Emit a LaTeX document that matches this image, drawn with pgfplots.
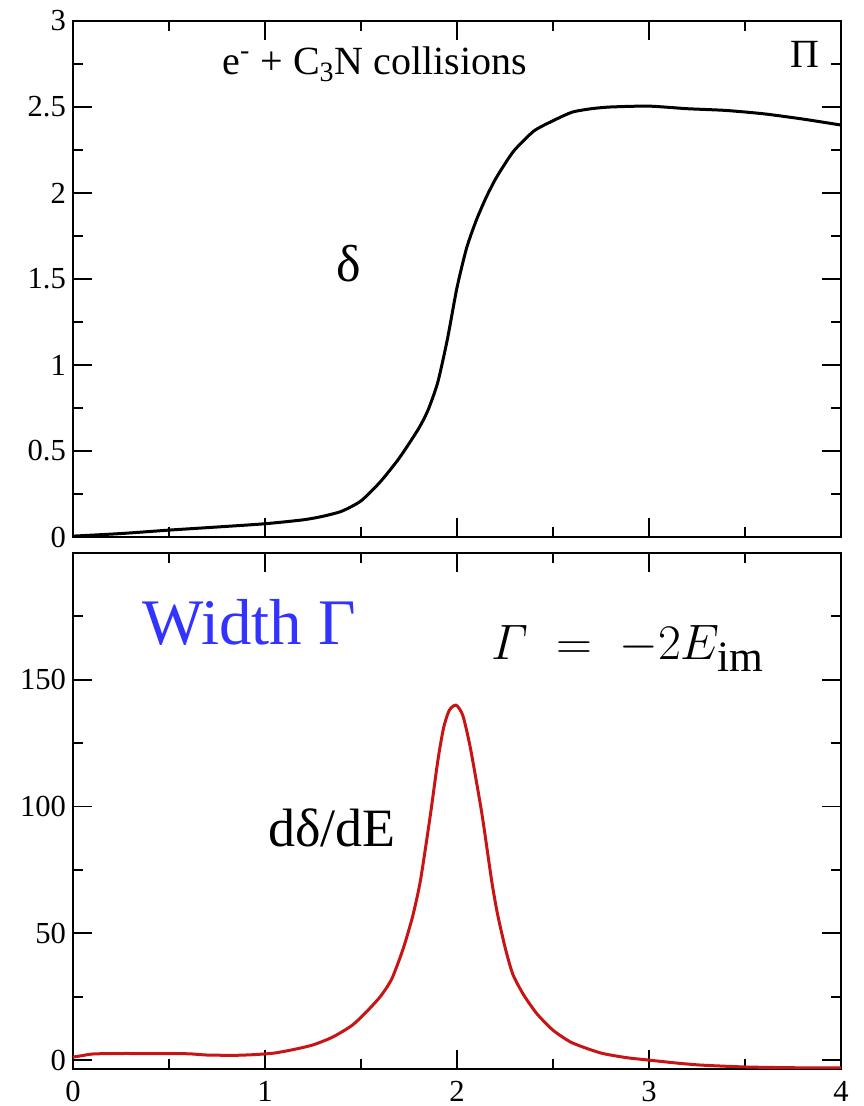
\documentclass[border=0pt]{standalone}
\usepackage{amsmath}
\usepackage{fontspec}
\setmainfont{Liberation Serif}
\newfontfamily\tfont{Liberation Serif}
\usepackage{pgfplots}
\pgfplotsset{compat=1.18}
\definecolor{curvered}{RGB}{200,20,20}
\definecolor{wblue}{RGB}{51,51,255}
\pgfplotsset{
  myax/.style={
    scale only axis, width=384pt, height=258pt,
    xmin=0, xmax=4,
    xtick={0,1,2,3,4}, minor xtick={0.5,1.5,2.5,3.5},
    tick align=inside,
    major tick length=9.5pt, minor tick length=5pt,
    axis line style={line width=1pt},
    every tick/.style={line width=0.9pt, black},
    tick label style={font=\tfont\fontsize{15.3}{18}\selectfont},
    /pgf/number format/assume math mode=true,
    clip=true,
  }
}
\begin{document}
\begin{tikzpicture}
\useasboundingbox (-36.5pt,-18.5pt) rectangle (395pt,534.5pt);
% bottom panel
\begin{axis}[myax, at={(0,0)}, anchor=south west,
  ymin=-3.5, ymax=200,
  ytick={0,50,100,150}, minor ytick={25,75,125,175},
  xticklabels={0,1,2,3,4},
  xticklabel style={yshift=-2.5pt}]
\addplot[curvered, line width=1.5pt, smooth, tension=0.4] coordinates {
(0.00,1.2) (0.05,1.8) (0.10,2.4) (0.20,2.6) (0.40,2.6) (0.60,2.5) (0.70,2.0)
(0.85,1.9) (0.95,2.2) (1.05,2.8) (1.15,4.2) (1.25,6.0) (1.35,9.0) (1.45,13.5)
(1.52,18.4) (1.60,25) (1.66,32) (1.72,44) (1.77,57) (1.81,71) (1.86,96)
(1.90,118) (1.93,131) (1.96,138) (1.995,140) (2.03,136) (2.07,123) (2.13,97)
(2.18,71) (2.21,58) (2.25,44.6) (2.29,34) (2.345,26) (2.415,18.4) (2.50,11.8)
(2.59,7.2) (2.68,4.5) (2.76,2.6) (2.88,1.0) (3.00,0) (3.15,-1.2) (3.28,-2)
(3.50,-2.7) (3.75,-3.0) (4.00,-3.1)
};
\end{axis}
% top panel
\begin{axis}[myax, at={(0,266pt)}, anchor=south west,
  ymin=0, ymax=3,
  ytick={0,0.5,1,1.5,2,2.5,3}, minor ytick={0.25,0.75,1.25,1.75,2.25,2.75},
  xticklabels={}]
\addplot[black, line width=1.5pt, smooth, tension=0.4] coordinates {
(0.00,0.005) (0.25,0.02) (0.50,0.04) (0.75,0.058) (1.00,0.077) (1.20,0.10)
(1.30,0.12) (1.40,0.15) (1.50,0.21) (1.60,0.32) (1.70,0.46) (1.80,0.63)
(1.85,0.74) (1.90,0.90) (1.95,1.15) (2.00,1.45) (2.05,1.68) (2.10,1.84)
(2.15,1.97) (2.20,2.08) (2.25,2.17) (2.30,2.25) (2.40,2.36) (2.50,2.42)
(2.60,2.47) (2.70,2.49) (2.80,2.50) (3.00,2.505) (3.20,2.49) (3.40,2.48)
(3.60,2.46) (3.80,2.43) (4.00,2.395)
};
\end{axis}
% annotations
\node[anchor=base west, inner sep=0pt, font=\tfont\fontsize{20}{22}\selectfont] at (74.5pt,497pt)
  {e\textsuperscript{-} + C\textsubscript{3}N collisions};
\node[anchor=base west, inner sep=0pt, font=\tfont\fontsize{20}{22}\selectfont] at (358.5pt,500.5pt) {Π};
\node[anchor=center, inner sep=0pt, font=\tfont\fontsize{26}{28}\selectfont] at (138pt,402.5pt) {δ};
\node[anchor=base west, inner sep=0pt, font=\tfont\fontsize{27}{29}\selectfont] at (97.5pt,111pt) {dδ/dE};
\node[anchor=base west, inner sep=0pt, text=wblue, font=\tfont\fontsize{32.5}{36}\selectfont] at (34.5pt,212pt) {Width Γ};
\node[anchor=base west, inner sep=0pt, font=\fontsize{31}{34}\selectfont] at (209pt,204.5pt) {$\varGamma \;=\; -2E_{\mathrm{im}}$};
\end{tikzpicture}
\end{document}
